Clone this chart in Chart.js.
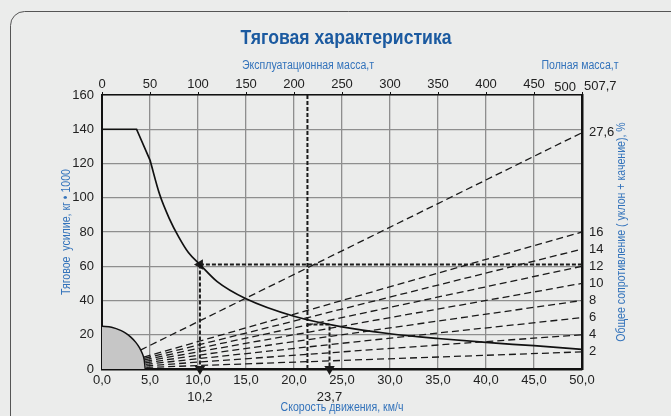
<!DOCTYPE html>
<html>
<head>
<meta charset="utf-8">
<script src="https://cdn.jsdelivr.net/npm/chart.js@4.4.1/dist/chart.umd.min.js"></script>
<style>
  html, body { margin: 0; padding: 0; background: #ebeceb; }
  canvas { display: block; }
</style>
</head>
<body>
<canvas id="traccion" width="671" height="416"></canvas>
<script>
const FUENTE = '"Liberation Sans", Arial, sans-serif';

// textos
const titulo = 'Тяговая характеристика';
const tituloMasa = 'Эксплуатационная масса,т';
const tituloMasaTotal = 'Полная масса,т';
const tituloVelocidad = 'Скорость движения, км/ч';
const tituloFuerza = 'Тяговое  усилие, кг • 1000';
const tituloResistencia = 'Общее сопротивление ( уклон + качение), %';

// curva de traccion (km/h -> kg*1000)
const velTramoRecto = [0, 3.6, 5];
const fuerzaTramoRecto = [140, 140, 122];
const velCurva = [5, 6, 7, 8, 9, 10.2, 12, 15, 20, 25, 30, 35, 40, 45, 50];
const fuerzaCurva = [122, 102, 88, 77, 68, 61, 51, 41, 30.8, 24.6, 20.6, 17.8, 15.5, 13.6, 11.5];

// zona gris junto al origen
const velZona = [0, 1, 2, 2.5, 3, 3.5, 3.9, 4.2, 4.4, 4.5];
const fuerzaZona = [25, 24.4, 22.4, 20.8, 18.6, 15.7, 12.5, 9, 5.3, 0];

// rectas de resistencia (%), con la velocidad donde empiezan
const resistencias = [2, 4, 6, 8, 10, 12, 14, 16, 27.6];
const inicioResistencia = [4.6, 4.6, 4.55, 4.5, 4.5, 4.45, 4.4, 4.35, 4.0];

// lineas guia
const guiaVel1 = 10.2, guiaFuerza1 = 61;
const guiaVel2 = 21.4;
const guiaVel3 = 23.7, guiaFuerza3 = 26;
const etiquetasExtra = [10.2, 23.7];

const ticksMasa = [0, 50, 100, 150, 200, 250, 300, 350, 400, 450, 500];
const masaTotal = 507.7;

function coma(v, dec) {
    return v.toFixed(dec).replace('.', ',');
}

function puntos(xs, ys) {
    return xs.map((x, i) => ({ x: x, y: ys[i] }));
}

// texto estrecho (la fuente original es tipo Arial Narrow)
function textoEstrecho(ctx, txt, x, y, escala, angulo) {
    ctx.save();
    ctx.translate(x, y);
    if (angulo) ctx.rotate(angulo);
    ctx.scale(escala, 1);
    ctx.fillText(txt, 0, 0);
    ctx.restore();
}

const datasets = [];

datasets.push({
    data: puntos(velZona, fuerzaZona),
    borderColor: '#111',
    borderWidth: 1.5,
    backgroundColor: '#c6c6c6',
    fill: 'origin',
    cubicInterpolationMode: 'monotone'
});

resistencias.forEach((r, i) => {
    const v0 = inicioResistencia[i];
    datasets.push({
        yAxisID: 'yR',
        data: [{ x: v0, y: r * v0 / 50 }, { x: 50, y: r }],
        borderColor: '#1a1a1a',
        borderWidth: 1.3,
        borderDash: [7, 4],
        fill: false
    });
});

datasets.push({
    data: puntos(velTramoRecto, fuerzaTramoRecto),
    borderColor: '#111',
    borderWidth: 1.7,
    tension: 0,
    fill: false
});
datasets.push({
    data: puntos(velCurva, fuerzaCurva),
    borderColor: '#111',
    borderWidth: 1.7,
    cubicInterpolationMode: 'monotone',
    fill: false
});

const estiloGuia = {
    borderColor: '#1a1a1a',
    backgroundColor: '#1a1a1a',
    borderWidth: 2,
    borderDash: [4, 2],
    pointStyle: 'triangle',
    fill: false,
    clip: false
};

datasets.push(Object.assign({}, estiloGuia, {
    data: [{ x: guiaVel1, y: guiaFuerza1 }, { x: guiaVel1, y: 0 }],
    pointRadius: [0, 4],
    pointRotation: [0, 180]
}));
datasets.push(Object.assign({}, estiloGuia, {
    data: [{ x: guiaVel1, y: guiaFuerza1 }, { x: 50, y: guiaFuerza1 }],
    pointRadius: [4, 0],
    pointRotation: [-90, 0]
}));
datasets.push(Object.assign({}, estiloGuia, {
    data: [{ x: guiaVel2, y: 160 }, { x: guiaVel2, y: 0 }],
    pointRadius: 0
}));
datasets.push(Object.assign({}, estiloGuia, {
    data: [{ x: guiaVel2, y: guiaFuerza3 }, { x: guiaVel3, y: guiaFuerza3 }, { x: guiaVel3, y: 0 }],
    pointRadius: [0, 0, 4],
    pointRotation: [0, 0, 180]
}));

const textos = {
    id: 'textos',
    beforeDraw(chart) {
        const ctx = chart.ctx;
        ctx.save();
        ctx.fillStyle = '#ebeceb';
        ctx.fillRect(0, 0, chart.width, chart.height);
        // marco de la tarjeta
        ctx.strokeStyle = '#555';
        ctx.lineWidth = 1;
        ctx.beginPath();
        ctx.moveTo(10.5, 430);
        ctx.lineTo(10.5, 26);
        ctx.arcTo(10.5, 11.5, 25, 11.5, 14);
        ctx.lineTo(700, 11.5);
        ctx.stroke();
        ctx.restore();
    },
    afterDraw(chart) {
        const ctx = chart.ctx;
        const x = chart.scales.x;
        const xTop = chart.scales.xTop;
        ctx.save();
        ctx.textAlign = 'center';
        ctx.textBaseline = 'middle';

        ctx.fillStyle = '#1b5aa0';
        ctx.font = 'bold 21px ' + FUENTE;
        textoEstrecho(ctx, titulo, 346, 38, 0.84);

        ctx.fillStyle = '#3373bb';
        ctx.font = '12px ' + FUENTE;
        textoEstrecho(ctx, tituloMasa, 308, 66, 0.88);
        textoEstrecho(ctx, tituloMasaTotal, 580, 66, 0.88);
        textoEstrecho(ctx, tituloVelocidad, 342, 408, 0.88);
        textoEstrecho(ctx, tituloFuerza, 67, 232, 0.88, -Math.PI / 2);
        textoEstrecho(ctx, tituloResistencia, 622, 232, 0.88, -Math.PI / 2);

        ctx.fillStyle = '#222';
        ctx.font = '13px ' + FUENTE;
        etiquetasExtra.forEach(v => {
            ctx.fillText(coma(v, 1), x.getPixelForValue(v), 397);
        });

        // ultima marca superior: 500 y masa total
        const px = xTop.getPixelForValue(500);
        ctx.textBaseline = 'alphabetic';
        ctx.textAlign = 'right';
        ctx.fillText('500', px - 6, 91);
        ctx.textAlign = 'left';
        ctx.fillText(coma(masaTotal, 1), px + 2, 90);
        ctx.restore();
    }
};

const ejeGris = { color: '#8e8e8e', lineWidth: 1.3, drawTicks: false };
const fuenteTicks = { family: FUENTE, size: 13 };

new Chart(document.getElementById('traccion'), {
    type: 'line',
    data: { datasets: datasets },
    plugins: [textos],
    options: {
        responsive: false,
        animation: false,
        devicePixelRatio: 1,
        layout: { padding: 0 },
        elements: { point: { radius: 0 } },
        plugins: { legend: { display: false }, tooltip: { enabled: false } },
        scales: {
            x: {
                type: 'linear',
                position: 'bottom',
                min: 0, max: 50,
                afterFit: s => { s.height = 47; },
                grid: ejeGris,
                border: { color: '#111', width: 2.5 },
                ticks: {
                    stepSize: 5, autoSkip: false, maxRotation: 0, padding: 4,
                    color: '#222', font: fuenteTicks,
                    callback: v => coma(v, 1)
                }
            },
            xTop: {
                type: 'linear',
                position: 'top',
                min: 0, max: 500,
                afterFit: s => { s.height = 95; },
                afterBuildTicks: s => { s.ticks = ticksMasa.map(v => ({ value: v })); },
                grid: { drawOnChartArea: false, drawTicks: true, tickLength: 3, color: '#111', lineWidth: 1 },
                border: { color: '#111', width: 1.5 },
                ticks: {
                    autoSkip: false, maxRotation: 0, padding: 0,
                    color: '#222', font: fuenteTicks,
                    callback: v => (v === 500 ? '' : String(v))
                }
            },
            y: {
                type: 'linear',
                position: 'left',
                min: 0, max: 160,
                afterFit: s => { s.width = 102; },
                grid: ejeGris,
                border: { color: '#111', width: 2 },
                ticks: {
                    stepSize: 20, autoSkip: false, padding: 8,
                    color: '#222', font: fuenteTicks
                }
            },
            yR: {
                type: 'linear',
                position: 'right',
                min: 0, max: 32,
                afterFit: s => { s.width = 89; },
                afterBuildTicks: s => { s.ticks = resistencias.map(v => ({ value: v })); },
                grid: { drawOnChartArea: false, drawTicks: false },
                border: { color: '#111', width: 2.5, dash: [3, 2] },
                ticks: {
                    autoSkip: false, padding: 7,
                    color: '#222', font: fuenteTicks,
                    callback: v => (Number.isInteger(v) ? String(v) : coma(v, 1))
                }
            }
        }
    }
});
</script>
</body>
</html>
